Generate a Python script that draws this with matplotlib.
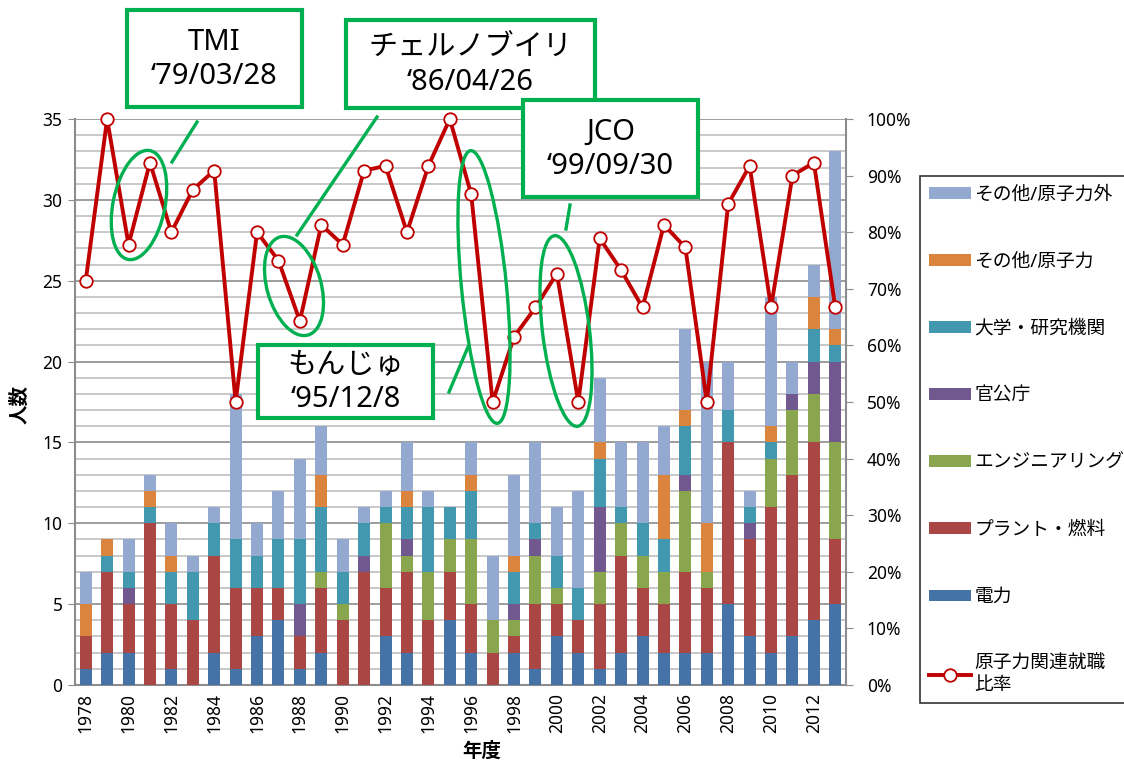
import matplotlib
matplotlib.use("Agg")
import matplotlib.pyplot as plt
import matplotlib.transforms as mtransforms
from matplotlib.patches import Ellipse, Rectangle, Patch
from matplotlib.lines import Line2D
import numpy as np

plt.rcParams['font.family'] = ['Noto Sans', 'Noto Sans CJK JP', 'DejaVu Sans']

years = list(range(1978, 2014))
power      = [1, 2, 2, 0, 1, 0, 2, 1, 3, 4, 1, 2, 0, 0, 3, 2, 0, 4, 2, 0, 2, 1, 3, 2, 1, 2, 3, 2, 2, 2, 5, 3, 2, 3, 4, 5]
plant      = [2, 5, 3, 10, 4, 4, 6, 5, 3, 2, 2, 4, 4, 7, 3, 5, 4, 3, 3, 2, 1, 4, 2, 2, 4, 6, 3, 3, 5, 4, 10, 6, 9, 10, 11, 4]
engineer   = [0, 0, 0, 0, 0, 0, 0, 0, 0, 0, 0, 1, 1, 0, 4, 1, 3, 2, 4, 2, 1, 3, 1, 0, 2, 2, 2, 2, 5, 1, 0, 0, 3, 4, 3, 6]
government = [0, 0, 1, 0, 0, 0, 0, 0, 0, 0, 2, 0, 0, 1, 0, 1, 0, 0, 0, 0, 1, 1, 0, 0, 4, 0, 0, 0, 1, 0, 0, 1, 0, 1, 2, 5]
university = [0, 1, 1, 1, 2, 3, 2, 3, 2, 3, 4, 4, 2, 2, 1, 2, 4, 2, 3, 0, 2, 1, 2, 2, 3, 1, 2, 2, 3, 0, 2, 1, 1, 0, 2, 1]
other_nuc  = [2, 1, 0, 1, 1, 0, 0, 0, 0, 0, 0, 2, 0, 0, 0, 1, 0, 0, 1, 0, 1, 0, 0, 0, 1, 0, 0, 4, 1, 3, 0, 0, 1, 0, 2, 1]
other_non  = [2, 0, 2, 1, 2, 1, 1, 9, 2, 3, 5, 3, 2, 1, 1, 3, 1, 0, 2, 4, 5, 5, 3, 6, 4, 4, 5, 3, 5, 10, 3, 1, 8, 2, 2, 11]
ratio_pct  = [71.4, 100, 77.8, 92.3, 80, 87.5, 90.9, 50, 80, 75, 64.3, 81.3, 77.8, 90.9, 91.7, 80, 91.7, 100,
              86.7, 50, 61.5, 66.7, 72.7, 50, 78.9, 73.3, 66.7, 81.3, 77.3, 50, 85, 91.7, 66.7, 90, 92.3, 66.7]

series_names = ['電力', 'プラント・燃料', 'エンジニアリング', '官公庁', '大学・研究機関', 'その他/原子力', 'その他/原子力外']
series_vals = [power, plant, engineer, government, university, other_nuc, other_non]
colors = ['#4572A7', '#AA4643', '#89A54E', '#71588F', '#4198AF', '#DB843D', '#93A9CF']
line_name = '原子力関連就職\n比率'

W, H = 1124, 764
fig = plt.figure(figsize=(W / 100, H / 100), dpi=100)
ax = fig.add_axes([75 / W, 1 - 685 / H, 771 / W, 566 / H])

x = np.arange(len(years))
bottom = np.zeros(len(years))
for name, vals, c in zip(series_names, series_vals, colors):
    ax.bar(x, vals, width=0.56, bottom=bottom, color=c, label=name, zorder=3)
    bottom += np.array(vals)

ax.set_xlim(-0.5, len(years) - 0.5)
ax.set_ylim(0, 35)
ax.set_yticks(range(0, 36, 5))
ax.set_yticks(range(0, 36, 1), minor=True)
ax.grid(which='minor', axis='y', color='#C8C8C8', lw=1.4, zorder=0)
ax.grid(which='major', axis='y', color='#8C8C8C', lw=1.2, zorder=0)
ax.set_xticks(x[::2])
ax.set_xticklabels([str(y) for y in years[::2]], rotation=90, fontsize=12.5)
ax.tick_params(axis='x', length=0, pad=6)
ax.tick_params(axis='y', which='major', length=5, color='#8C8C8C', labelsize=12.5, pad=4)
ax.tick_params(axis='y', which='minor', length=0)
for s in ['left', 'bottom']:
    ax.spines[s].set_color('#8C8C8C')
    ax.spines[s].set_linewidth(1.5)
ax.spines['top'].set_visible(False)
ax.spines['right'].set_visible(False)

ax2 = ax.twinx()
ax2.set_ylim(0, 100)
ax2.set_xlim(-0.5, len(years) - 0.5)
ax2.plot(x, ratio_pct, color='#C00000', lw=2.8, marker='o', markersize=9,
         markerfacecolor='white', markeredgecolor='#C00000', markeredgewidth=1.3,
         clip_on=False, zorder=5)
ax2.set_yticks(range(0, 101, 10))
ax2.set_yticklabels([f"{v}%" for v in range(0, 101, 10)])
ax2.tick_params(axis='y', length=5, color='#8C8C8C', labelsize=12.5, pad=10)
ax2.spines['right'].set_color('#8C8C8C')
ax2.spines['right'].set_linewidth(1.5)
for s in ['left', 'top', 'bottom']:
    ax2.spines[s].set_visible(False)

fig.text(20 / W, 1 - 405 / H, '人数', rotation=90, fontsize=14, fontweight='bold',
         ha='center', va='center')
fig.text(482 / W, 1 - 752 / H, '年度', fontsize=14, fontweight='bold', ha='center', va='center')

# legend
handles = [Patch(facecolor=c, edgecolor='none') for c in colors][::-1]
labels = series_names[::-1]
handles.append(Line2D([0], [0], color='#C00000', lw=2.8, marker='o', markersize=9,
                      markerfacecolor='white', markeredgecolor='#C00000', markeredgewidth=1.3))
labels.append(line_name)
leg = fig.legend(handles, labels, loc='upper left', bbox_to_anchor=(920 / W, 1 - 176 / H),
                 fontsize=13.5, frameon=True, fancybox=False, edgecolor='black',
                 labelspacing=2.62, handlelength=2.2, handleheight=0.6, handletextpad=0.2,
                 borderpad=0.5, borderaxespad=0)
leg.get_frame().set_linewidth(1.2)

# annotations in pixel coordinates
T = mtransforms.Affine2D().scale(1 / W, -1 / H).translate(0, 1) + fig.transFigure
green = '#00B050'

boxes = [
    ((127, 10, 175, 97), 'TMI\n‘79/03/28'),
    ((346, 20, 249, 88), 'チェルノブイリ\n‘86/04/26'),
    ((523, 100, 175, 97), 'JCO\n‘99/09/30'),
    ((258, 345, 175, 73), 'もんじゅ\n‘95/12/8'),
]
for (bx, by, bw, bh), txt in boxes:
    fig.patches.append(Rectangle((bx, by), bw, bh, transform=T, facecolor='white',
                                 edgecolor=green, lw=3, zorder=10))
    fig.text(bx + bw / 2, by + bh / 2 + 1, txt, transform=T, ha='center', va='center',
             fontsize=21, linespacing=1.25, zorder=11)

ellipses = [
    ((139, 205), 52, 111, 11.4),
    ((294, 286), 54, 102, -16),
    ((484, 287), 45, 274, -5.6),
    ((566, 331), 47, 192, -6.9),
]
for c, w, h, ang in ellipses:
    fig.patches.append(Ellipse(c, w, h, angle=ang, transform=T, fill=False,
                               edgecolor=green, lw=2.4, zorder=10))

connectors = [
    ((197, 122), (172, 162)),
    ((377, 117), (297, 235)),
    ((468, 347), (449, 392)),
    ((570, 205), (566, 229)),
]
for p0, p1 in connectors:
    fig.lines.append(Line2D([p0[0], p1[0]], [p0[1], p1[1]], transform=T, color=green,
                            lw=2.4, zorder=10))

fig.savefig('out.png', dpi=100)
